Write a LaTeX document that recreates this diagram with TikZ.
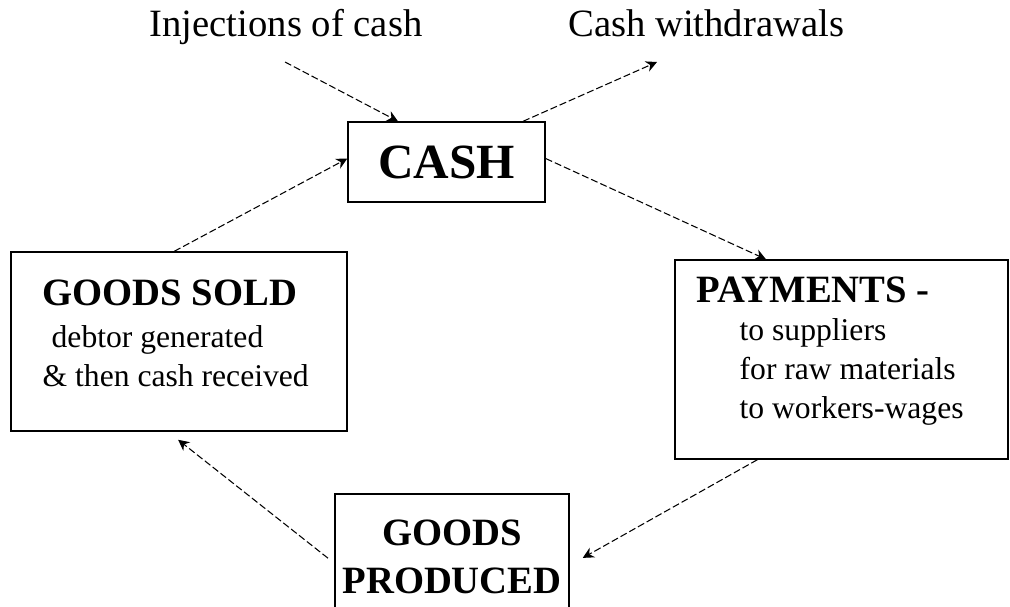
\documentclass[tikz,border=0pt]{standalone}
\usepackage{fontspec}
\setmainfont{Liberation Serif}
\usetikzlibrary{arrows.meta,positioning}
\tikzset{
    %Define standard arrow tip
    >={Stealth[length=2.2mm,width=2.2mm]},
    %Define style for boxes
    boks/.style={
           rectangle,
           draw=black, line width=0.8pt,
           inner sep=0pt,
           align=center},
    % Define arrow style
    pil/.style={
           ->,
           line width=0.6pt,
           dash pattern=on 1.4mm off 0.6mm}
}

\begin{document}
\begin{tikzpicture}[x=0.2mm,y=-0.2mm,
tittel/.style={font=\fontsize{22}{26}\selectfont},
tekst/.style={inner sep=0pt, align=left, font=\fontsize{18}{22}\selectfont}
]
\useasboundingbox (0,0) rectangle (1010,607);
%Nodes
\node[tittel, anchor=base] (inject) at (286,37) {Injections of cash};
\node[tittel, anchor=base west] (withdraw) at (562,37) {Cash withdrawals};
\coordinate (injstart) at (285,62);
\coordinate (wdend) at (657,62);
\node[boks, minimum width=39.4mm, minimum height=16mm,
      font=\fontsize{28}{32}\selectfont\bfseries] (cash) at (446.5,162) {CASH};
\node[boks, minimum width=67.2mm, minimum height=35.8mm] (sold) at (179,341.5) {};
\node[boks, minimum width=66.6mm, minimum height=39.8mm] (pay) at (841.5,359.5) {};
\node[boks, minimum width=46.8mm, minimum height=25.2mm,
      font=\fontsize{22}{27}\selectfont\bfseries] (prod) at (452,557) {GOODS\\PRODUCED};
% Box texts
\node[tekst, below right=5.6mm and 6.4mm of sold.north west] (soldtxt)
  {{\fontsize{22}{26}\selectfont\bfseries GOODS SOLD}\\[2pt]
   \hspace*{1.8mm}debtor generated\\
   \& then cash received};
\node[tekst, below right=3.4mm and 4.4mm of pay.north west] (paytxt)
  {{\fontsize{22}{26}\selectfont\bfseries PAYMENTS -}\\
   \hspace*{8.6mm}to suppliers\\
   \hspace*{8.6mm}for raw materials\\
   \hspace*{8.6mm}to workers-wages};
%Arrows
\draw[pil] (injstart) -- (cash.140);
\draw[pil] (cash.28) -- (wdend);
\draw[pil] (cash.2) -- (pay.127);
\draw[pil, shorten >=3mm] (pay.230) -- (prod.-4);
\draw[pil, shorten <=1.6mm, shorten >=2.6mm] (prod.183) -- (sold.263);
\draw[pil] (sold.93) -- (cash.178);
\end{tikzpicture}
\end{document}
